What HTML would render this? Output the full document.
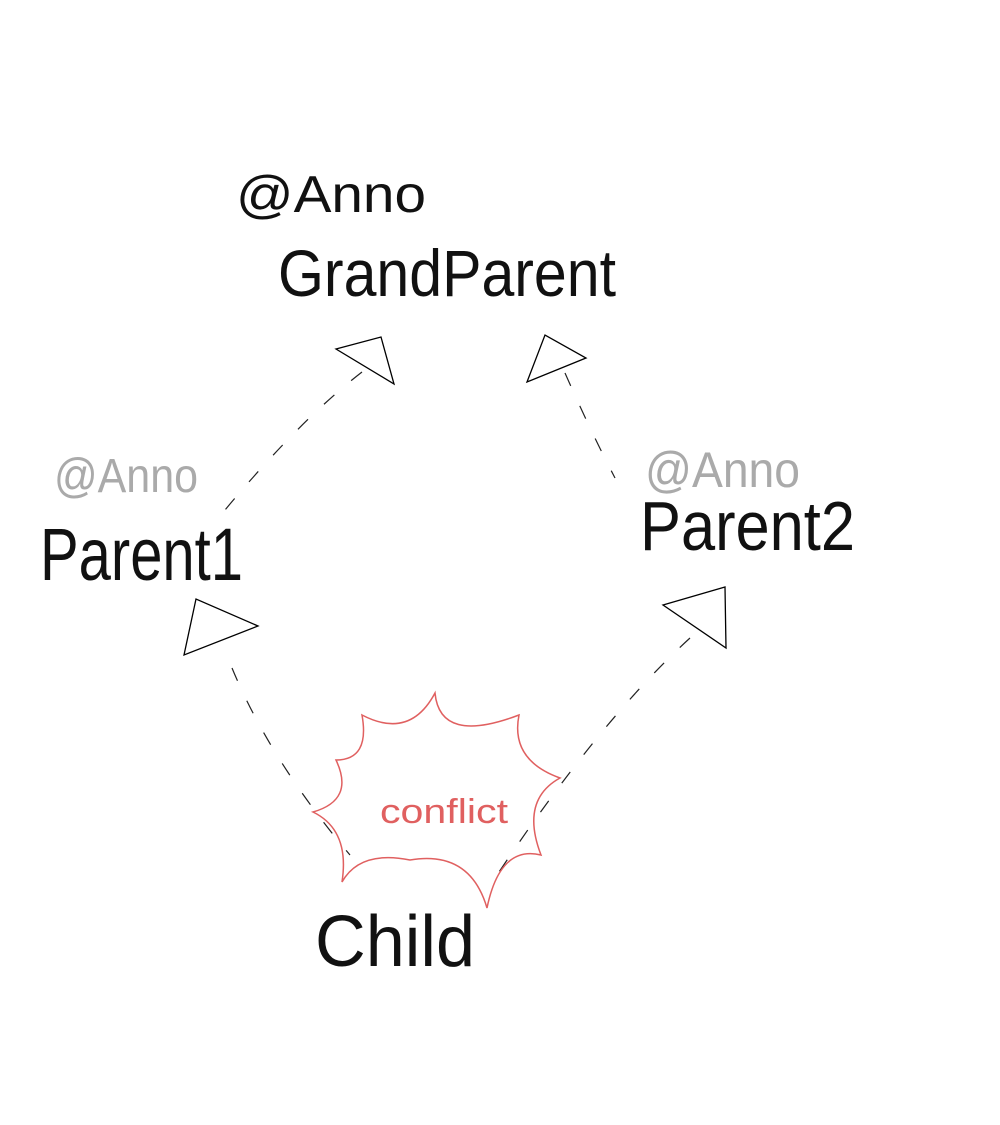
<!DOCTYPE html>
<html><head><style>html,body{margin:0;padding:0;background:#fff;}svg{display:block}</style></head>
<body>
<svg width="1000" height="1125" viewBox="0 0 1000 1125" xmlns="http://www.w3.org/2000/svg" font-family="Liberation Sans, sans-serif">
<rect width="1000" height="1125" fill="#fff"/>
<!-- texts -->
<text x="236" y="212" font-size="52" textLength="190" lengthAdjust="spacingAndGlyphs" fill="#111">@Anno</text>
<text x="278" y="296" font-size="66" textLength="338" lengthAdjust="spacingAndGlyphs" fill="#111">GrandParent</text>
<text x="54" y="492" font-size="48" textLength="144" lengthAdjust="spacingAndGlyphs" fill="#aaa">@Anno</text>
<text x="40" y="580" font-size="74" textLength="203" lengthAdjust="spacingAndGlyphs" fill="#111">Parent1</text>
<text x="645" y="487" font-size="50" textLength="155" lengthAdjust="spacingAndGlyphs" fill="#aaa">@Anno</text>
<text x="640" y="550" font-size="70" textLength="215" lengthAdjust="spacingAndGlyphs" fill="#111">Parent2</text>
<text x="315" y="966" font-size="72" textLength="160" lengthAdjust="spacingAndGlyphs" fill="#111">Child</text>
<!-- triangles -->
<g fill="none" stroke="#000" stroke-width="1.3">
<polygon points="336,349 381,337 394,384"/>
<polygon points="527,382 545,335 586,358"/>
<polygon points="184,655 196,599 258,626"/>
<polygon points="663,605 725,587 726,648"/>
</g>
<!-- dashed connectors -->
<g fill="none" stroke="#222" stroke-width="1.2" stroke-dasharray="14,22">
<path d="M362,372 Q300,420 225,510"/>
<path d="M565,373 Q590,430 615,478"/>
<path d="M232,668 Q270,760 350,855"/>
<path d="M690,638 Q600,720 495,878"/>
</g>
<!-- burst -->
<path fill="none" stroke="#e06060" stroke-width="1.5" d="M435,693 Q440,745 519,715 Q510,760 560,778 Q520,800 541,855 Q500,845 487,908 Q470,850 410,860 Q360,850 342,882 Q350,830 313,812 Q355,800 336,760 Q370,760 362,715 Q410,740 435,693 Z"/>
<text x="380" y="823" font-size="34" textLength="128" lengthAdjust="spacingAndGlyphs" fill="#e06060">conflict</text>
</svg>
</body></html>
